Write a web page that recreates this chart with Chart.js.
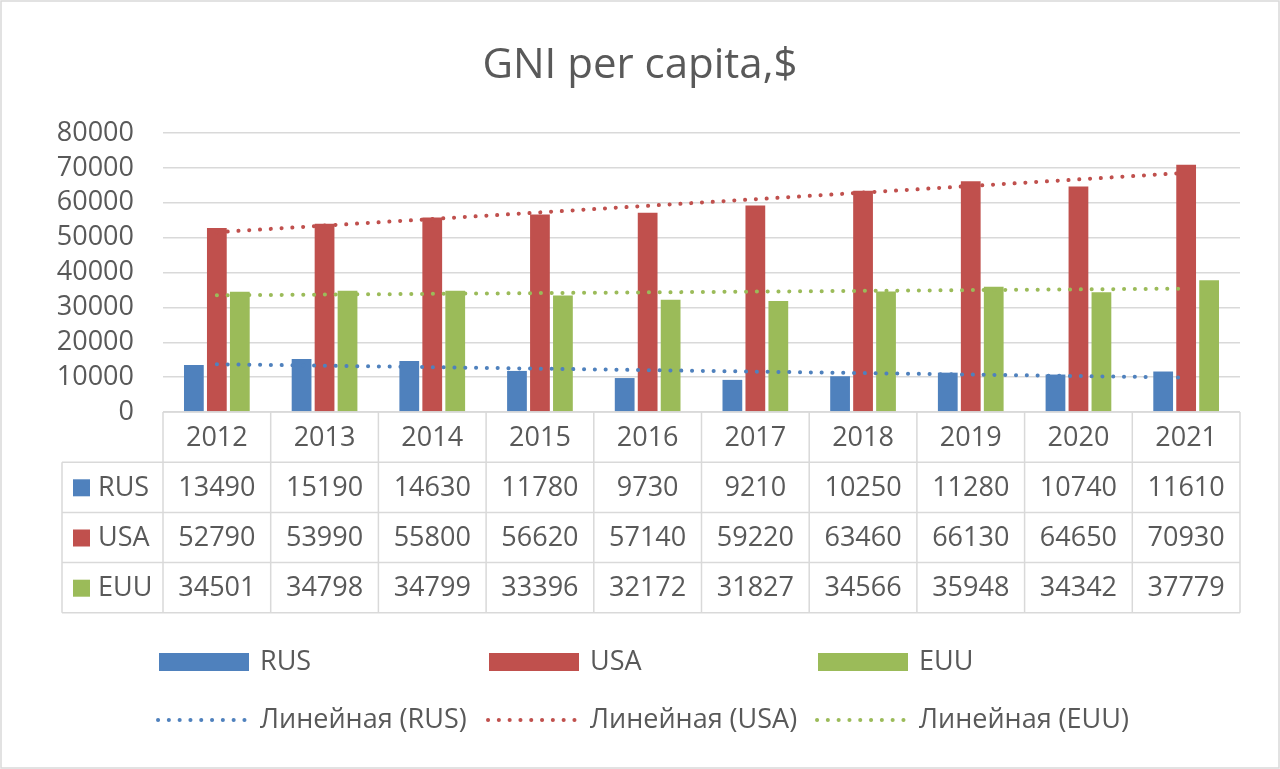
<!DOCTYPE html>
<html>
<head>
<meta charset="utf-8">
<script src="https://cdn.jsdelivr.net/npm/chart.js@4.4.0/dist/chart.umd.min.js"></script>
<style>
  html, body { margin: 0; padding: 0; background: #fff; }
  #wrap { width: 1280px; height: 769px; }
</style>
</head>
<body>
<div id="wrap"><canvas id="chart" width="1280" height="769"></canvas></div>
<script>
var years = ['2012', '2013', '2014', '2015', '2016', '2017', '2018', '2019', '2020', '2021']
var rus = [13490, 15190, 14630, 11780, 9730, 9210, 10250, 11280, 10740, 11610]
var usa = [52790, 53990, 55800, 56620, 57140, 59220, 63460, 66130, 64650, 70930]
var euu = [34501, 34798, 34799, 33396, 32172, 31827, 34566, 35948, 34342, 37779]
var seriesNames = ['RUS', 'USA', 'EUU']
var trendPrefix = 'Линейная'

var BLUE = '#4f81bd'
var RED = '#c0504d'
var GREEN = '#9bbb59'
var TEXT = '#595959'
var GRID = '#d9d9d9'
var FONT = '"Open Sans", Lato, sans-serif'
var FS = 27

// least squares linear trend, like Excel's "Linear" trendline
function linearTrend (vals) {
  var n = vals.length
  var mx = (n - 1) / 2
  var my = vals.reduce(function (a, b) { return a + b }, 0) / n
  var num = 0
  var den = 0
  vals.forEach(function (v, i) {
    num += (i - mx) * (v - my)
    den += (i - mx) * (i - mx)
  })
  var slope = num / den
  return vals.map(function (v, i) { return my + slope * (i - mx) })
}

function barSet (label, data, color) {
  return {
    type: 'bar',
    label: label,
    data: data,
    backgroundColor: color,
    categoryPercentage: 0.64,
    barPercentage: 0.86,
    order: 1
  }
}

function trendSet (label, data, color) {
  return {
    type: 'line',
    label: trendPrefix + ' (' + label + ')',
    data: linearTrend(data),
    borderColor: color,
    borderWidth: 4,
    borderDash: [0.1, 10.7],
    borderCapStyle: 'round',
    pointRadius: 0,
    fill: false,
    tension: 0,
    order: 0
  }
}

var allSeries = [rus, usa, euu]
var colors = [BLUE, RED, GREEN]

var chartExtras = {
  id: 'chartExtras',
  afterDraw: function (chart) {
    var ctx = chart.ctx
    var area = chart.chartArea
    var n = years.length
    var colW = (area.right - area.left) / n
    var top = area.bottom
    var rowH = 50.2
    var tableLeft = 62

    ctx.save()

    // outer border
    ctx.strokeStyle = GRID
    ctx.lineWidth = 1.5
    ctx.strokeRect(1, 1, chart.width - 2, chart.height - 2)

    // title
    ctx.fillStyle = TEXT
    ctx.font = '42px ' + FONT
    ctx.textAlign = 'center'
    ctx.textBaseline = 'middle'
    ctx.fillText('GNI per capita,$', 640, 66)

    // data table grid
    ctx.strokeStyle = GRID
    ctx.lineWidth = 1.5
    ctx.beginPath()
    ctx.moveTo(area.left, top)
    ctx.lineTo(area.right, top)
    for (var r = 1; r <= 4; r++) {
      ctx.moveTo(tableLeft, top + r * rowH)
      ctx.lineTo(area.right, top + r * rowH)
    }
    for (var c = 0; c <= n; c++) {
      ctx.moveTo(area.left + c * colW, top)
      ctx.lineTo(area.left + c * colW, top + 4 * rowH)
    }
    ctx.moveTo(tableLeft, top + rowH)
    ctx.lineTo(tableLeft, top + 4 * rowH)
    ctx.stroke()

    // table text
    ctx.font = FS + 'px ' + FONT
    ctx.fillStyle = TEXT
    ctx.textAlign = 'center'
    years.forEach(function (y, i) {
      ctx.fillText(y, area.left + (i + 0.5) * colW, top + rowH / 2 + 1)
    })
    allSeries.forEach(function (vals, s) {
      var cy = top + (s + 1.5) * rowH + 1
      ctx.fillStyle = colors[s]
      ctx.fillRect(73, cy - 9, 17, 17)
      ctx.fillStyle = TEXT
      ctx.textAlign = 'left'
      ctx.fillText(seriesNames[s], 98, cy)
      ctx.textAlign = 'center'
      vals.forEach(function (v, i) {
        ctx.fillText(String(v), area.left + (i + 0.5) * colW, cy)
      })
    })

    // legend
    var legendX = [159, 489, 818]
    seriesNames.forEach(function (name, s) {
      var x = legendX[s]
      ctx.fillStyle = colors[s]
      ctx.fillRect(x, 653, 90, 18)
      ctx.fillStyle = TEXT
      ctx.textAlign = 'left'
      ctx.fillText(name, x + 101, 662)

      ctx.strokeStyle = colors[s]
      ctx.lineWidth = 4
      ctx.lineCap = 'round'
      ctx.setLineDash([0.1, 10.7])
      ctx.beginPath()
      ctx.moveTo(x - 1, 720)
      ctx.lineTo(x + 90, 720)
      ctx.stroke()
      ctx.setLineDash([])
      ctx.fillText(trendPrefix + ' (' + name + ')', x + 101, 720)
    })

    ctx.restore()
  }
}

new Chart(document.getElementById('chart'), {
  data: {
    labels: years,
    datasets: [
      barSet(seriesNames[0], rus, BLUE),
      barSet(seriesNames[1], usa, RED),
      barSet(seriesNames[2], euu, GREEN),
      trendSet(seriesNames[0], rus, BLUE),
      trendSet(seriesNames[1], usa, RED),
      trendSet(seriesNames[2], euu, GREEN)
    ]
  },
  options: {
    responsive: false,
    animation: false,
    devicePixelRatio: 1,
    layout: { padding: { top: 133, bottom: 357, left: 0, right: 40 } },
    plugins: {
      legend: { display: false },
      title: { display: false },
      tooltip: { enabled: false }
    },
    scales: {
      x: {
        display: false,
        offset: true
      },
      y: {
        min: 0,
        max: 80000,
        ticks: {
          stepSize: 10000,
          autoSkip: false,
          color: TEXT,
          font: { family: FONT, size: FS, lineHeight: 1 },
          padding: 29,
          callback: function (v) { return String(v) }
        },
        grid: { color: GRID, lineWidth: 1.5, drawTicks: false },
        border: { display: false },
        afterFit: function (scale) { scale.width = 163 }
      }
    }
  },
  plugins: [chartExtras]
})
</script>
</body>
</html>
